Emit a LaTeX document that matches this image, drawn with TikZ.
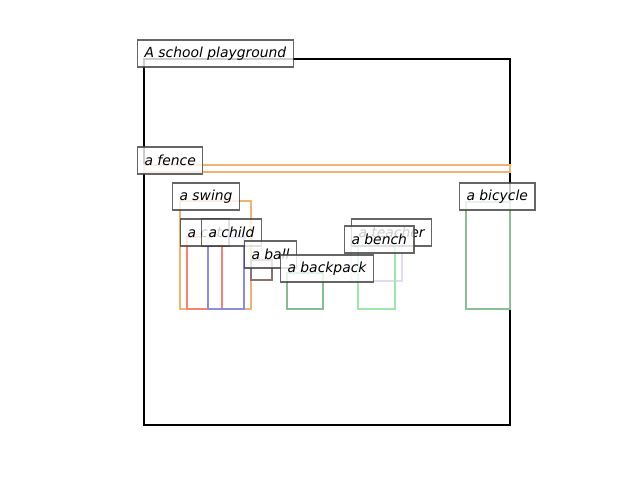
\documentclass[tikz,border=0pt]{standalone}
\usepackage{fontspec}
\setmainfont{DejaVu Sans}
\definecolor{cfence}{HTML}{F0B370}
\definecolor{ccat}{HTML}{FA8072}
\definecolor{cchild}{HTML}{8C8CE0}
\definecolor{cball}{HTML}{8A7272}
\definecolor{cpack}{HTML}{86BC96}
\definecolor{cteach}{HTML}{E4DAF6}
\definecolor{cbench}{HTML}{9BE8AA}
\definecolor{cbike}{HTML}{8CBC98}
\tikzset{
  bbox/.style={line width=2pt},
  lbl/.style={anchor=west, fill=white, fill opacity=0.8, text opacity=1,
    draw=black!75, draw opacity=0.8, line width=0.8pt, inner xsep=5pt, inner ysep=0pt,
    minimum height=19.4pt, font=\itshape\fontsize{10}{12}\selectfont}
}
\begin{document}
\begin{tikzpicture}[x=0.72pt,y=-0.72pt]
\useasboundingbox (0,0) rectangle (640,480);
\draw[line width=1.5pt, black] (144,59) rectangle (510,425);
\draw[bbox, cfence] (144,165) rectangle (510,172);
\draw[bbox, cfence] (180,201) rectangle (251,309);
\draw[bbox, ccat] (187,237) rectangle (222,309);
\draw[bbox, cchild] (208,237) rectangle (244,309);
\draw[bbox, cball] (251,260) rectangle (272,280);
\draw[bbox, cpack] (287,273) rectangle (323,309);
\draw[bbox, cteach] (351,237) rectangle (402,281);
\draw[bbox, cbench] (358,245) rectangle (395,309);
\draw[bbox, cbike] (466,202) rectangle (510,309);
\node[lbl] (playground) at (137,53.5) {A school playground};
\node[lbl] (fence) at (137,160.5) {a fence};
\node[lbl] (swing) at (172,196.5) {a swing};
\node[lbl] (cat) at (180,232.5) {a cat};
\node[lbl] (child) at (201,232.5) {a child};
\node[lbl] (ball) at (244,254.5) {a ball};
\node[lbl] (backpack) at (280,268.5) {a backpack};
\node[lbl] (teacher) at (351,232.5) {a teacher};
\node[lbl] (bench) at (344,239.5) {a bench};
\node[lbl] (bicycle) at (459,196.5) {a bicycle};
\end{tikzpicture}
\end{document}
